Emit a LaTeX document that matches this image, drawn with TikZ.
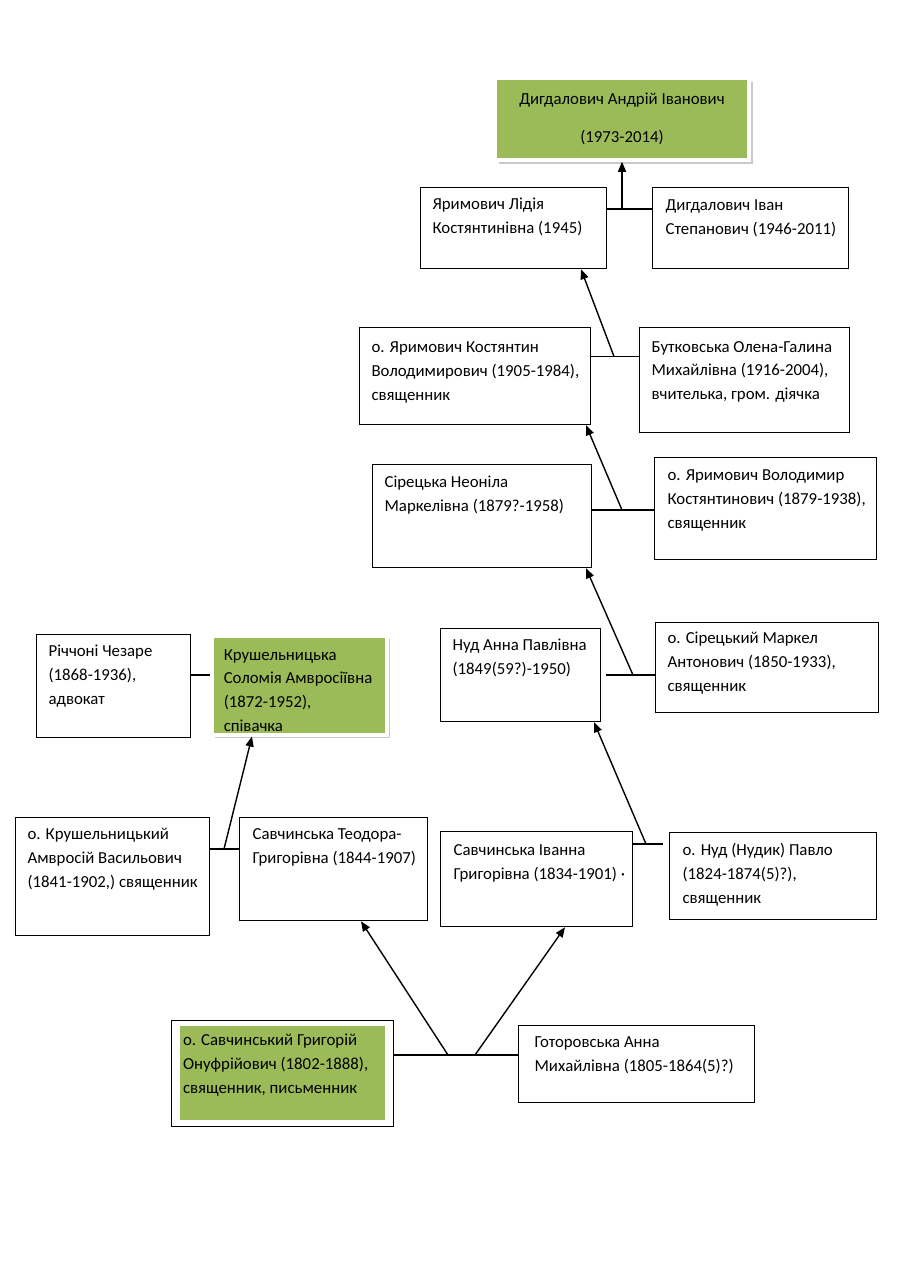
\documentclass[tikz,border=0pt]{standalone}
\usepackage{fontspec}
\setmainfont{Carlito}
\usetikzlibrary{arrows.meta,shadows}
\definecolor{olivegreen}{RGB}{155,187,89}
\newcommand{\cell}[5]{\parbox[c][#2pt][t]{#1pt}{\vspace*{#4pt}\raggedright\leftskip=#3pt\relax\strut #5\par}}
\tikzset{
  person/.style={draw, line width=1.2pt, inner sep=0pt, anchor=north west},
  star/.style={fill=olivegreen, draw=white, line width=3.5pt, inner sep=0pt, anchor=north west,
    drop shadow={shadow xshift=3.5pt, shadow yshift=-3.5pt, fill=black!35, opacity=0.6}},
  link/.style={line width=1.2pt},
  arr/.style={line width=1.4pt, -{Triangle[length=10pt,width=8pt]}}
}
\begin{document}
\begin{tikzpicture}[x=1pt,y=1pt,every node/.style={font=\fontsize{16.8}{23.7}\selectfont}]
\fill[white] (0,0) rectangle (905,-1280);
\useasboundingbox (0,0) rectangle (905,-1280);

% top
\node[star, anchor=center, minimum width=254pt, minimum height=82pt, align=center] (g1) at (622,-119)
  {Дигдалович Андрій Іванович\\[15pt](1973-2014)};

\node[person] (b2) at (420,-187) {\cell{186}{81}{12}{5.7}{Яримович Лідія\\Костянтинівна (1945)}};
\node[person] (b3) at (652,-187) {\cell{196}{81}{13}{6.5}{Дигдалович Іван\\Степанович (1946-2011)}};
\node[person] (b4) at (359,-327) {\cell{231}{97}{12}{8.5}{о. Яримович Костянтин\\Володимирович (1905-1984),\\священник}};
\node[person] (b5) at (639,-327) {\cell{210}{105}{12}{8}{Бутковська Олена-Галина\\Михайлівна (1916-2004),\\вчителька, гром. діячка}};
\node[person] (b6) at (372,-464) {\cell{219}{103}{12}{6.7}{Сірецька Неоніла\\Маркелівна (1879?-1958)}};
\node[person] (b7) at (654,-457) {\cell{222}{102}{13}{6.7}{о. Яримович Володимир\\Костянтинович (1879-1938),\\священник}};
\node[person] (b8) at (440,-628) {\cell{160}{93}{12}{5.7}{Нуд Анна Павлівна\\(1849(59?)-1950)}};
\node[person] (b9) at (655,-622) {\cell{223}{90}{12}{4.7}{о. Сірецький Маркел\\Антонович (1850-1933),\\священник}};
\node[person] (b10) at (36,-634) {\cell{154}{103}{12}{5.7}{Річчоні Чезаре\\(1868-1936),\\адвокат}};
\node[star] (g11) at (210,-634) {\cell{175}{99}{12}{7.7}{Крушельницька\\Соломія Амвросіївна\\(1872-1952),\\співачка}};
\node[person] (b12) at (15,-817) {\cell{194}{118}{12}{5.7}{о. Крушельницький\\Амвросій Васильович\\(1841-1902,) священник}};
\node[person] (b13) at (239,-817) {\cell{188}{103}{13}{5.7}{Савчинська Теодора-\\Григорівна (1844-1907)}};
\node[person] (b14) at (440,-831) {\cell{192}{95}{13}{7.7}{Савчинська Іванна\\Григорівна (1834-1901) ·}};
\node[person] (b15) at (669,-832) {\cell{207}{87}{13}{6.7}{о. Нуд (Нудик) Павло\\(1824-1874(5)?),\\священник}};
\fill[olivegreen] (180,-1026) rectangle (385,-1120);
\node[person] (g16) at (171,-1020) {\cell{222}{106}{11.5}{8.7}{о. Савчинський Григорій\\Онуфрійович (1802-1888),\\священник, письменник}};
\node[person] (b17) at (518,-1025) {\cell{236}{77}{16}{5.7}{Готоровська Анна\\Михайлівна (1805-1864(5)?)}};

% junctions and tip columns
\coordinate (j1) at (622,-209);
\coordinate (j2) at (614,-356.5);
\coordinate (j3) at (622,-510);
\coordinate (j4) at (633,-675);
\coordinate (c4) at (606,-675);
\coordinate (j5) at (200,-675);
\coordinate (j6) at (224,-849);
\coordinate (j7) at (646,-844);
\coordinate (c7) at (663,-844);
\coordinate (j8a) at (448,-1055);
\coordinate (j8b) at (475,-1055);
\coordinate (x2) at (581,0);
\coordinate (x3) at (586,0);
\coordinate (x4) at (586,0);
\coordinate (x6) at (252,0);
\coordinate (x7) at (594,0);
\coordinate (x8a) at (361,0);
\coordinate (x8b) at (565,0);

\draw[link] (b2.east|-j1) -- (b3.west|-j1);
\draw[arr] (j1) -- (g1.south);
\draw[link] (b4.east|-j2) -- (b5.west|-j2);
\draw[arr] (j2) -- (x2|-b2.south);
\draw[link] (b6.east|-j3) -- (b7.west|-j3);
\draw[arr] (j3) -- (x3|-b4.south);
\draw[link] (c4) -- (b9.west|-j4);
\draw[arr] (j4) -- (x4|-b6.south);
\draw[link] (b10.east|-j5) -- (g11.west|-j5);
\draw[link] (b12.east|-j6) -- (b13.west|-j6);
\draw[arr] (j6) -- (x6|-g11.south);
\draw[link] (b14.east|-j7) -- (c7);
\draw[arr] (j7) -- (x7|-b8.south);
\draw[link] (g16.east|-j8a) -- (b17.west|-j8a);
\draw[arr] (j8a) -- (x8a|-b13.south);
\draw[arr] (j8b) -- (x8b|-b14.south);
\end{tikzpicture}
\end{document}
